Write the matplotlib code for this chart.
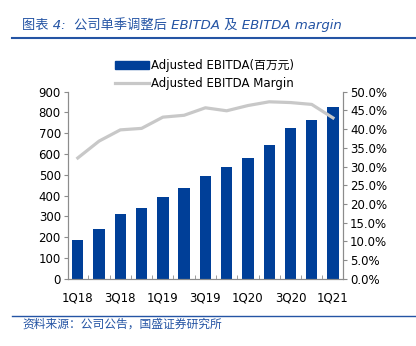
import matplotlib
matplotlib.use("Agg")
import matplotlib.pyplot as plt
from matplotlib.patches import Patch
from matplotlib.lines import Line2D
import numpy as np

plt.rcParams['font.family'] = ['DejaVu Sans', 'Noto Sans CJK SC']

quarters = ['1Q18', '2Q18', '3Q18', '4Q18', '1Q19', '2Q19', '3Q19', '4Q19',
            '1Q20', '2Q20', '3Q20', '4Q20', '1Q21']
ebitda = [188, 242, 310, 341, 392, 437, 493, 538, 581, 643, 724, 766, 828]
margin = [32.3, 36.8, 39.8, 40.2, 43.2, 43.7, 45.7, 44.9, 46.3, 47.3, 47.1, 46.6, 43.0]

bar_color = '#003F98'
line_color = '#C8C8C8'
blue_text = '#2454A4'
spine_c = '#8C8C8C'

fig = plt.figure(figsize=(4.16, 3.46), dpi=100)
ax = fig.add_axes([0.163, 0.194, 0.662, 0.541])
ax2 = ax.twinx()

x = np.arange(len(quarters))
ax.bar(x, ebitda, width=0.53, color=bar_color, zorder=2)
ax2.plot(x, margin, color=line_color, lw=2.3, zorder=3)

ax.set_xlim(-0.47, 12.48)
ax.set_ylim(0, 900)
ax.set_yticks(range(0, 901, 100))
ax2.set_ylim(0, 50)
ax2.set_yticks(np.arange(0, 50.1, 5))
ax2.set_yticklabels(['%.1f%%' % v for v in np.arange(0, 50.1, 5)])

ax.set_xticks(x[::2])
ax.set_xticklabels(quarters[::2])
ax.set_xticks(np.arange(0.5, 12, 1), minor=True)
ax.tick_params(axis='x', which='major', length=0, pad=9, labelsize=8.5)
ax.tick_params(axis='x', which='minor', direction='in', length=3, color=spine_c)
ax.tick_params(axis='y', direction='out', length=3, color=spine_c, labelsize=8.5, pad=2)
ax2.tick_params(axis='y', direction='out', length=3, color=spine_c, labelsize=8.5, pad=2)

for a in (ax, ax2):
    a.spines['top'].set_visible(False)
    for s in ('left', 'right', 'bottom'):
        a.spines[s].set_color(spine_c)
        a.spines[s].set_linewidth(0.8)

handles = [Patch(color=bar_color), Line2D([0], [0], color=line_color, lw=2.3)]
labels = ['Adjusted EBITDA(百万元)', 'Adjusted EBITDA Margin']
fig.legend(handles, labels, loc='upper left', bbox_to_anchor=(0.277, 0.829),
           frameon=False, fontsize=8.5, handlelength=2.9, handletextpad=0.15,
           labelspacing=0.4, borderaxespad=0, borderpad=0)

fig.text(0.053, 0.928, '图表 4:  公司单季调整后 EBITDA 及 EBITDA margin',
         color=blue_text, fontsize=9.5, style='italic', va='center')
fig.add_artist(Line2D([0.029, 1.0], [0.89, 0.89], color='#2454A4', lw=1.5,
                      transform=fig.transFigure))
fig.add_artist(Line2D([0.029, 1.0], [0.087, 0.087], color='#2454A4', lw=1.0,
                      transform=fig.transFigure))
fig.text(0.053, 0.063, '资料来源：公司公告，国盛证券研究所', color=blue_text,
         fontsize=8.5, style='italic', va='center')

fig.savefig('out.png', dpi=100)
